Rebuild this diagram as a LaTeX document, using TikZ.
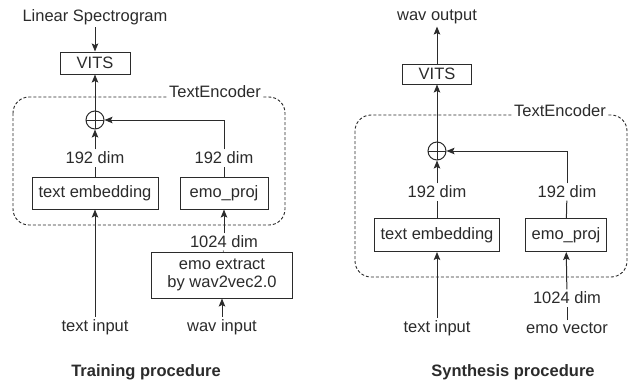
\documentclass[tikz,border=0pt]{standalone}
\usepackage{fontspec}
\setmainfont{Liberation Sans}
\usetikzlibrary{arrows.meta}
\definecolor{ink}{HTML}{2B2B2B}
\begin{document}
\begin{tikzpicture}
  [x=1pt,y=-1pt,line width=1pt,draw=ink,
   every node/.style={text=ink,font=\fontsize{16.5}{19}\selectfont},
   lbl/.style={inner sep=2pt},
   box/.style={draw=ink,rectangle,inner sep=2pt,align=center},
   sumnode/.style={draw=ink,circle,minimum size=18pt,inner sep=0pt,
     path picture={\draw[ink] (path picture bounding box.north) -- (path picture bounding box.south)
       (path picture bounding box.west) -- (path picture bounding box.east);}},
   enc/.style={draw=ink,dashed,dash pattern=on 3pt off 2pt,rounded corners=16pt,line width=0.9pt},
   enclbl/.style={fill=white,inner sep=1pt},
   heading/.style={font=\fontsize{16.5}{19}\selectfont\bfseries},
   arr/.style={-{Stealth[length=8pt,width=6.5pt,inset=1.5pt]}}]
  \useasboundingbox (0,0) rectangle (632,381);

  % training
  \draw[enc] (13,97) rectangle (285,225);
  \node[enclbl] (enc1) at (215,92) {TextEncoder};
  \node[lbl] (spec) at (95,17) {Linear Spectrogram};
  \node[box,minimum width=70pt,minimum height=22pt] (vits1) at (95,63) {VITS};
  \node[sumnode] (sum1) at (95,120) {};
  \node[lbl] (d1a) at (95,158) {192 dim};
  \node[lbl] (d1b) at (224,158) {192 dim};
  \node[box,minimum width=126pt,minimum height=32pt] (emb1) at (95,193) {text embedding};
  \node[box,minimum width=88pt,minimum height=32pt] (proj1) at (224,193) {emo\_proj};
  \node[lbl] (d1c) at (224,242) {1024 dim};
  \node[box,minimum width=141pt,minimum height=46pt,inner sep=1pt] (ext1) at (222,275) {emo extract\\[-1pt]by wav2vec2.0};
  \node[lbl] (txt1) at (95,327) {text input};
  \node[lbl] (wav1) at (222,327) {wav input};
  \node[heading] (train) at (146,372) {Training procedure};

  \foreach \from/\to in {spec/vits1,sum1/vits1,d1a/sum1,d1c/proj1,txt1/emb1,wav1/ext1}
    \draw[arr] (\from) -- (\to);
  \foreach \from/\to in {emb1/d1a,proj1/d1b,ext1/d1c}
    \draw (\from) -- (\to);
  \draw[arr] (d1b) |- (sum1);

  % synthesis
  \draw[enc] (355,115) rectangle (627,277);
  \node[enclbl] (enc2) at (560,111) {TextEncoder};
  \node[lbl] (out2) at (437,17) {wav output};
  \node[box,minimum width=69pt,minimum height=20pt] (vits2) at (437,74) {VITS};
  \node[sumnode] (sum2) at (437,151) {};
  \node[lbl] (d2a) at (437,192) {192 dim};
  \node[lbl] (d2b) at (567,192) {192 dim};
  \node[box,minimum width=125pt,minimum height=33pt] (emb2) at (437,235) {text embedding};
  \node[box,minimum width=81pt,minimum height=33pt] (proj2) at (566,235) {emo\_proj};
  \node[lbl] (d2c) at (567,298) {1024 dim};
  \node[lbl] (txt2) at (437,328) {text input};
  \node[lbl] (vec2) at (567,328) {emo vector};
  \node[heading] (synth) at (513,372) {Synthesis procedure};

  \foreach \from/\to in {vits2/out2,sum2/vits2,d2a/sum2,d2c/proj2,txt2/emb2}
    \draw[arr] (\from) -- (\to);
  \foreach \from/\to in {emb2/d2a,proj2/d2b,vec2/d2c}
    \draw (\from) -- (\to);
  \draw[arr] (d2b) |- (sum2);

\end{tikzpicture}
\end{document}
